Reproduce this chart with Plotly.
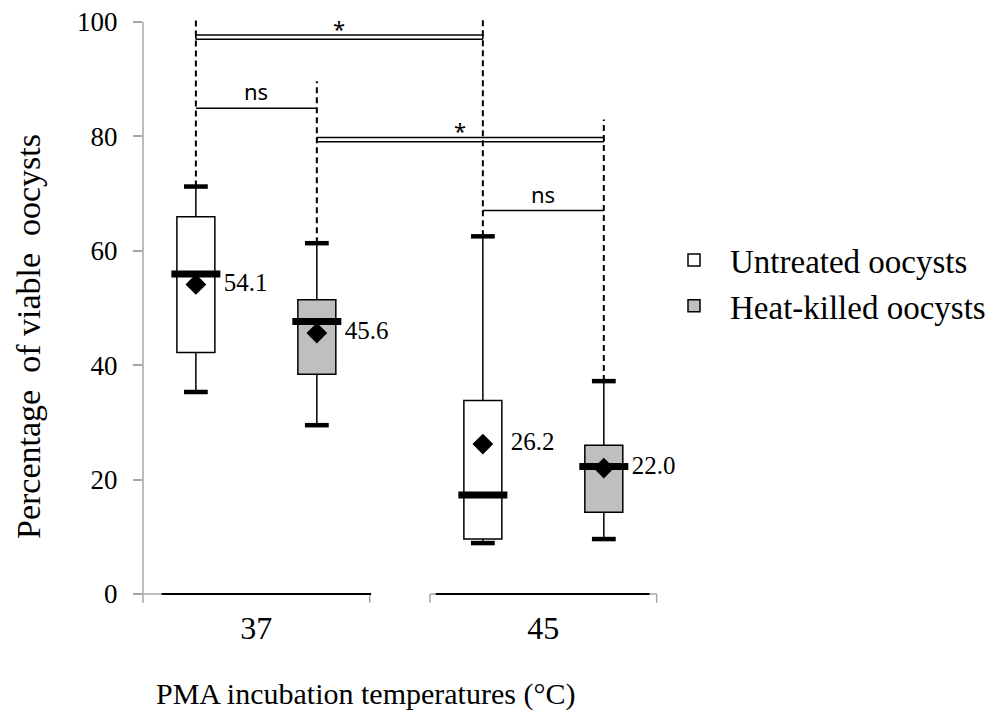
import plotly.graph_objects as go

# ---------------- data ----------------
categories = ["37", "45"]
group_names = ["Untreated oocysts", "Heat-killed oocysts"]
group_fill = ["#ffffff", "#bfbfbf"]

untreated_lower = [35.3, 8.9]
untreated_q1 = [42.2, 9.6]
untreated_median = [55.9, 17.3]
untreated_q3 = [65.9, 33.8]
untreated_upper = [71.2, 62.5]
untreated_mean = [54.1, 26.2]

heat_lower = [29.5, 9.6]
heat_q1 = [38.4, 14.3]
heat_median = [47.6, 22.3]
heat_q3 = [51.4, 26.0]
heat_upper = [61.3, 37.2]
heat_mean = [45.6, 22.0]

y_ticks = [0, 20, 40, 60, 80, 100]

# significance comparisons: (cat_a, group_a), (cat_b, group_b), label, level, double line
comparisons = [
    ((0, 0), (1, 0), "*", 97.3, True),
    ((0, 0), (0, 1), "ns", 84.9, False),
    ((0, 1), (1, 1), "*", 79.4, True),
    ((1, 0), (1, 1), "ns", 67.0, False),
]
# top of the dashed leader line above each box [group][category]
dashed_top = [[100.6, 100.6], [89.6, 82.9]]

# ---------------- styling ----------------
SERIF = "Liberation Serif"
SANS = "Noto Sans"
BOXGAP = 0.157
BOXGROUPGAP = 0.686
XRANGE = [-0.395, 1.41]
CAT_HALF = 0.395
BASE_SPAN = [(-0.33, 0.40), (-0.375, 0.37)]
AX_GRAY = "#a6a6a6"
PLOT_L, PLOT_W, PLOT_B, PLOT_H = 143, 518, 594, 578


def px_x(p):
    return (p - PLOT_L) / PLOT_W


def px_y(p):
    return (PLOT_B - p) / PLOT_H


stats = [
    dict(lower=untreated_lower, q1=untreated_q1, med=untreated_median, q3=untreated_q3,
         upper=untreated_upper, mean=untreated_mean),
    dict(lower=heat_lower, q1=heat_q1, med=heat_median, q3=heat_q3,
         upper=heat_upper, mean=heat_mean),
]


def pos(ci, gi):
    """centre of the box of group gi in category ci (same rule as boxmode='group')."""
    return ci + (gi - 0.5) * (1 - BOXGAP) / 2


fig = go.Figure()

for gi, s in enumerate(stats):
    og = "g%d" % gi
    fig.add_trace(go.Box(
        name=group_names[gi], x=categories,
        q1=s["q1"], median=s["med"], q3=s["q3"],
        lowerfence=s["lower"], upperfence=s["upper"],
        fillcolor=group_fill[gi], line=dict(color="black", width=1.5),
        whiskerwidth=0, boxpoints=False, offsetgroup=og, hoverinfo="skip",
    ))

for gi, s in enumerate(stats):
    og = "g%d" % gi
    # whisker caps
    fig.add_trace(go.Scatter(
        x=categories + categories, y=s["lower"] + s["upper"], mode="markers",
        marker=dict(symbol="line-ew", size=17, line=dict(color="black", width=4.5)),
        offsetgroup=og, showlegend=False, hoverinfo="skip"))
    # thick medians
    fig.add_trace(go.Scatter(
        x=categories, y=s["med"], mode="markers",
        marker=dict(symbol="line-ew", size=35, line=dict(color="black", width=7)),
        offsetgroup=og, showlegend=False, hoverinfo="skip"))
    # means
    fig.add_trace(go.Scatter(
        x=categories, y=s["mean"], mode="markers",
        marker=dict(symbol="diamond", size=16, color="black", line=dict(width=0)),
        offsetgroup=og, showlegend=False, hoverinfo="skip"))
    # mean labels
    fig.add_trace(go.Scatter(
        x=categories, y=s["mean"], mode="markers+text",
        text=["%.1f" % m for m in s["mean"]], textposition="middle right",
        textfont=dict(family=SERIF, size=25, color="black"),
        marker=dict(size=43, color="rgba(0,0,0,0)"), cliponaxis=False,
        offsetgroup=og, showlegend=False, hoverinfo="skip"))

shapes = []
# y axis line
shapes.append(dict(type="line", xref="paper", yref="y", x0=0, x1=0, y0=0, y1=100,
                   line=dict(color=AX_GRAY, width=1.5)))
# category axis segments with bracket ends
for ci in range(len(categories)):
    left = max(ci - CAT_HALF, XRANGE[0])
    right = ci + CAT_HALF
    shapes.append(dict(type="line", xref="x", yref="paper", x0=left, x1=right, y0=0, y1=0,
                       line=dict(color=AX_GRAY, width=1.5), layer="below"))
    for xe in (left, right):
        if xe == XRANGE[0]:
            shapes.append(dict(type="line", xref="paper", yref="paper", x0=0, x1=0,
                               y0=0, y1=-0.015, line=dict(color=AX_GRAY, width=1.5)))
        else:
            shapes.append(dict(type="line", xref="x", yref="paper", x0=xe, x1=xe,
                               y0=0, y1=-0.015, line=dict(color=AX_GRAY, width=1.5)))
    b0, b1 = BASE_SPAN[ci]
    shapes.append(dict(type="line", xref="x", yref="paper", x0=ci + b0, x1=ci + b1,
                       y0=0, y1=0, line=dict(color="black", width=2)))

# dashed leader lines
for gi, s in enumerate(stats):
    for ci in range(len(categories)):
        xp = pos(ci, gi)
        shapes.append(dict(type="line", xref="x", yref="y", x0=xp, x1=xp,
                           y0=s["upper"][ci], y1=dashed_top[gi][ci],
                           line=dict(color="black", width=2, dash="6px,4px")))

annotations = []
for (a, b, label, level, double) in comparisons:
    xa, xb = pos(*a), pos(*b)
    if double:
        for dy in (-0.38, 0.38):
            shapes.append(dict(type="line", xref="x", yref="y", x0=xa, x1=xb,
                               y0=level + dy, y1=level + dy, line=dict(color="black", width=1.5)))
        for xe in (xa, xb):
            shapes.append(dict(type="line", xref="x", yref="y", x0=xe, x1=xe,
                               y0=level - 0.38, y1=level + 0.38, line=dict(color="black", width=1.5)))
        top = level + 0.38
    else:
        shapes.append(dict(type="line", xref="x", yref="y", x0=xa, x1=xb,
                           y0=level, y1=level, line=dict(color="black", width=1.5)))
        top = level
    annotations.append(dict(x=(xa + xb) / 2, y=top, xref="x", yref="y", text=label,
                            showarrow=False, yanchor="bottom",
                            yshift=-10 if label == "*" else 0,
                            font=dict(family=SANS, size=22, color="black")))

# axis titles
annotations.append(dict(x=px_x(365), y=px_y(694), xref="paper", yref="paper",
                        text="PMA incubation temperatures (°C)", showarrow=False,
                        xanchor="center", yanchor="middle",
                        font=dict(family=SERIF, size=30, color="black")))
annotations.append(dict(x=px_x(28), y=px_y(337), xref="paper", yref="paper",
                        text="Percentage\u00a0 of viable\u00a0 oocysts", showarrow=False,
                        textangle=-90, xanchor="center", yanchor="middle",
                        font=dict(family=SERIF, size=34, color="black")))

fig.update_layout(
    width=989, height=714,
    margin=dict(l=PLOT_L, r=989 - PLOT_L - PLOT_W, t=PLOT_B - PLOT_H, b=714 - PLOT_B,
                pad=0, autoexpand=False),
    paper_bgcolor="white", plot_bgcolor="white",
    boxmode="group", boxgap=BOXGAP, boxgroupgap=BOXGROUPGAP,
    scattermode="group", scattergap=BOXGAP,
    shapes=shapes, annotations=annotations,
    showlegend=True,
    legend=dict(x=px_x(658), y=px_y(283), xanchor="left", yanchor="middle", itemwidth=62,
                font=dict(family=SERIF, size=33, color="black"),
                bgcolor="rgba(0,0,0,0)", borderwidth=0, tracegroupgap=0),
    xaxis=dict(type="category", categoryorder="array", categoryarray=categories,
               range=XRANGE, showline=False, showgrid=False, zeroline=False,
               automargin=False,
               ticks="", tickfont=dict(family=SERIF, size=32, color="black"),
               ticklabelstandoff=12),
    yaxis=dict(range=[0, 101], tickvals=y_ticks, ticks="outside", ticklen=9,
               automargin=False,
               tickcolor=AX_GRAY, tickwidth=1.5, showline=False, showgrid=False,
               zeroline=False, tickfont=dict(family=SERIF, size=27, color="black"),
               ticklabelstandoff=10),
)

fig.write_html("out.html", config={"displayModeBar": False},
               post_script="document.body.style.margin='0';document.body.style.overflow='hidden';")
